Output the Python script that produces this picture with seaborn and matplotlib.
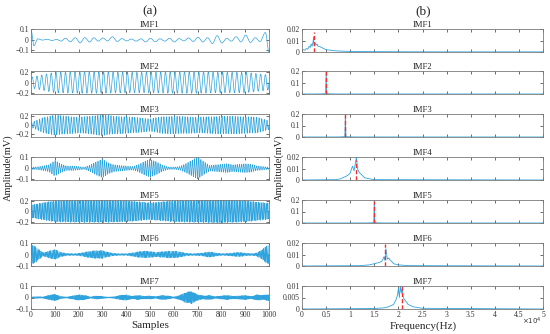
import numpy as np
import matplotlib
matplotlib.use("Agg")
import matplotlib.pyplot as plt
import seaborn as sns

sns.set_style("ticks")
plt.rcParams["font.family"] = ["Liberation Serif", "DejaVu Serif"]

BLUE = "#2ea3dd"
RED = "#f03030"
FRAME = "#7a7a7a"

FS = 100000          # sampling rate (Hz), 1000 samples -> 10 ms
N = 1000
names = ["IMF1", "IMF2", "IMF3", "IMF4", "IMF5", "IMF6", "IMF7"]

# ---- (a) time signals ----
# IMF1: extrema positions (samples) and values
imf1_pos = [0, 12, 28, 48, 68, 88, 108, 126, 145, 165, 186, 206, 226, 246, 264, 283,
            302, 322, 342, 362, 382, 402, 422, 442, 462, 482, 502, 522, 542, 562, 582,
            602, 622, 642, 662, 682, 702, 722, 742, 762, 782, 802, 822, 842, 862, 882,
            902, 922, 942, 962, 985, 1000]
imf1_val = [0.10, -0.055, 0.01, -0.002, 0.006, -0.006, 0.004, -0.012, 0.015, -0.018,
            0.02, -0.028, 0.022, -0.02, 0.02, -0.012, 0.018, -0.01, 0.03, -0.015, 0.012,
            -0.01, 0.008, -0.012, 0.01, -0.02, 0.015, -0.018, 0.01, -0.012, 0.015, -0.02,
            0.012, -0.01, 0.018, -0.015, 0.025, -0.02, 0.02, -0.035, 0.04, -0.03, 0.015,
            -0.012, 0.03, -0.02, 0.045, -0.025, 0.02, -0.015, 0.07, -0.12]

# IMF2..IMF7: carrier frequency (Hz) and amplitude envelope
carrier = [5000, 9000, 11100, 15000, 17200, 20700]
env_100 = [0, 100, 200, 300, 400, 500, 600, 700, 800, 900, 1000]
env_50 = list(range(0, 1001, 50))
env_25 = list(range(0, 1001, 25))
imf2_env = [0.10, 0.19, 0.20, 0.20, 0.19, 0.19, 0.20, 0.20, 0.19, 0.19, 0.14]
imf3_env = [0.05, 0.17, 0.23, 0.20, 0.18, 0.20, 0.24, 0.20, 0.19, 0.17, 0.14, 0.19, 0.20,
            0.19, 0.18, 0.19, 0.20, 0.20, 0.19, 0.18, 0.10]
imf4_env = [0.01, 0.012, 0.02, 0.03, 0.07, 0.04, 0.02, 0.02, 0.015, 0.01, 0.03, 0.06, 0.085,
            0.05, 0.03, 0.025, 0.02, 0.015, 0.03, 0.06, 0.08, 0.06, 0.03, 0.012, 0.01, 0.015,
            0.04, 0.07, 0.10, 0.06, 0.025, 0.03, 0.035, 0.04, 0.03, 0.035, 0.04, 0.035, 0.02,
            0.015, 0.008]
imf5_env = [0.12, 0.20, 0.21, 0.21, 0.20, 0.16, 0.20, 0.21, 0.22, 0.20, 0.15]
imf6_env = [0.09, 0.06, 0.015, 0.03, 0.045, 0.02, 0.01, 0.008, 0.01, 0.02, 0.03, 0.035,
            0.035, 0.02, 0.01, 0.008, 0.008, 0.015, 0.025, 0.03, 0.028, 0.02, 0.025, 0.03,
            0.03, 0.025, 0.012, 0.008, 0.01, 0.015, 0.025, 0.015, 0.008, 0.01, 0.015, 0.02,
            0.012, 0.008, 0.015, 0.05, 0.09]
imf7_env = [0.005, 0.008, 0.006, 0.02, 0.03, 0.01, 0.005, 0.015, 0.025, 0.02, 0.006, 0.015,
            0.01, 0.004, 0.008, 0.02, 0.025, 0.012, 0.02, 0.012, 0.015, 0.008, 0.02, 0.015,
            0.006, 0.02, 0.045, 0.055, 0.025, 0.015, 0.02, 0.008, 0.015, 0.02, 0.012, 0.015,
            0.02, 0.01, 0.025, 0.02, 0.03]
envelopes = [(env_100, imf2_env), (env_50, imf3_env), (env_25, imf4_env),
             (env_100, imf5_env), (env_25, imf6_env), (env_25, imf7_env)]

left_ylim = [(-0.115, 0.103), (-0.215, 0.215), (-0.27, 0.25), (-0.105, 0.1),
             (-0.22, 0.21), (-0.1, 0.1), (-0.1, 0.1)]
left_yticks = [[-0.1, 0, 0.1], [-0.2, 0, 0.2], [-0.2, 0, 0.2], [-0.1, 0, 0.1],
               [-0.2, 0, 0.2], [-0.1, 0, 0.1], [-0.1, 0, 0.1]]

# ---- (b) amplitude spectra ----
spec_f = [
    [0, 300, 600, 900, 1200, 1500, 1700, 1900, 2100, 2300, 2400, 2500, 2700, 2900, 3100,
     3300, 3600, 4000, 4500, 5000, 6000, 7000, 8000, 10000, 15000, 20000, 30000, 50000],
    [0, 3000, 4000, 4500, 4800, 4900, 5000, 5100, 5200, 5500, 6000, 7000, 50000],
    [0, 7000, 8000, 8500, 8800, 8900, 9000, 9100, 9200, 9500, 10000, 11000, 50000],
    [0, 7000, 8000, 9000, 9500, 10000, 10300, 10500, 10800, 11000, 11300, 11500, 11800,
     12000, 12300, 12500, 13000, 14000, 15000, 50000],
    [0, 13000, 14000, 14500, 14800, 14900, 15000, 15100, 15200, 15500, 16000, 17000, 50000],
    [0, 12000, 14000, 15000, 16000, 16500, 16800, 17000, 17200, 17400, 17700, 18000, 18300,
     18600, 19000, 19500, 20000, 22000, 50000],
    [0, 15000, 17000, 18000, 19000, 19500, 19800, 20000, 20200, 20400, 20600, 20800, 21000,
     21300, 21700, 22000, 23000, 25000, 50000],
]
spec_a = [
    [0.001, 0.002, 0.0015, 0.003, 0.0025, 0.005, 0.004, 0.007, 0.005, 0.009, 0.013, 0.006,
     0.008, 0.006, 0.007, 0.005, 0.005, 0.004, 0.003, 0.002, 0.0015, 0.001, 0.0008, 0.0005,
     0.0003, 0.0002, 0.0001, 0.0001],
    [0, 0.0002, 0.001, 0.002, 0.004, 0.01, 0.19, 0.01, 0.004, 0.002, 0.001, 0.0002, 0],
    [0, 0.0002, 0.001, 0.002, 0.004, 0.01, 0.19, 0.01, 0.004, 0.002, 0.001, 0.0002, 0],
    [0, 0.0003, 0.001, 0.003, 0.004, 0.006, 0.01, 0.012, 0.008, 0.013, 0.02, 0.01, 0.007,
     0.006, 0.005, 0.004, 0.002, 0.001, 0.0003, 0],
    [0, 0.0002, 0.001, 0.002, 0.004, 0.01, 0.19, 0.01, 0.004, 0.002, 0.001, 0.0002, 0],
    [0, 0.0003, 0.001, 0.002, 0.003, 0.004, 0.006, 0.008, 0.005, 0.015, 0.006, 0.007, 0.005,
     0.004, 0.002, 0.0015, 0.001, 0.0003, 0],
    [0, 0.0002, 0.0005, 0.001, 0.002, 0.004, 0.006, 0.009, 0.005, 0.01, 0.007, 0.009, 0.005,
     0.004, 0.003, 0.002, 0.001, 0.0003, 0],
]
centre_f = [2400, 5000, 9000, 11100, 15000, 17200, 20700]
centre_h = [0.017, 0.2, 0.2, 0.017, 0.19, 0.019, 0.01]
right_ymax = [0.02, 0.2, 0.2, 0.02, 0.2, 0.02, 0.01]
right_yticks = [[0, 0.01, 0.02], [0, 0.1, 0.2], [0, 0.1, 0.2], [0, 0.01, 0.02],
                [0, 0.1, 0.2], [0, 0.01, 0.02], [0, 0.005, 0.01]]
freq_ticks = [0, 5000, 10000, 15000, 20000, 25000, 30000, 35000, 40000, 45000, 50000]
freq_labels = ["0", "0.5", "1", "1.5", "2", "2.5", "3", "3.5", "4", "4.5", "5"]
sample_ticks = list(range(0, 1001, 100))

# build time signals
n = np.arange(N + 1)
signals = []
sig1 = np.zeros(len(n))
for k in range(len(imf1_pos) - 1):
    a, b = imf1_pos[k], imf1_pos[k + 1]
    seg = (n >= a) & (n <= b)
    s = (n[seg] - a) / (b - a)
    sig1[seg] = imf1_val[k] + (imf1_val[k + 1] - imf1_val[k]) * (1 - np.cos(np.pi * s)) / 2
signals.append(sig1)
for f, (ep, ev) in zip(carrier, envelopes):
    signals.append(np.interp(n, ep, ev) * np.sin(2 * np.pi * f * n / FS))

fig = plt.figure(figsize=(5.5, 3.34), dpi=100)
W, H = 550, 334
row_tops = [29, 71, 114, 157, 200, 243, 286]
ax_h = 23


def style(ax, title, last):
    ax.set_title(title, fontsize=6.2, pad=1.5)
    ax.set(xlabel="", ylabel="")
    ax.tick_params(direction="in", length=2, width=0.5, top=True, right=True,
                   labelsize=5.5, pad=1.5, colors="#333333")
    for sp in ax.spines.values():
        sp.set_visible(True)
        sp.set_color(FRAME)
        sp.set_linewidth(0.6)
    if not last:
        ax.tick_params(labelbottom=False)


for i in range(7):
    bottom = 1 - (row_tops[i] + ax_h) / H
    last = i == 6

    axl = fig.add_axes([31 / W, bottom, 238 / W, ax_h / H])
    sns.lineplot(x=n, y=signals[i], ax=axl, color=BLUE, linewidth=0.5,
                 estimator=None, errorbar=None)
    axl.set_xlim(0, N)
    axl.set_ylim(*left_ylim[i])
    axl.set_xticks(sample_ticks)
    axl.set_yticks(left_yticks[i])
    axl.set_yticklabels([f"{v:g}".replace("-", "\u2212") for v in left_yticks[i]])
    style(axl, names[i], last)

    axr = fig.add_axes([302 / W, bottom, 241 / W, ax_h / H])
    sns.lineplot(x=spec_f[i], y=spec_a[i], ax=axr, color=BLUE, linewidth=0.6,
                 estimator=None, errorbar=None)
    axr.plot([centre_f[i], centre_f[i]], [0, centre_h[i]], color=RED, lw=1.0,
             ls=(0, (3, 1.5)))
    axr.set_xlim(0, 50000)
    axr.set_ylim(0, right_ymax[i])
    axr.set_xticks(freq_ticks)
    axr.set_xticklabels(freq_labels)
    axr.set_yticks(right_yticks[i])
    axr.set_yticklabels([f"{v:g}" for v in right_yticks[i]])
    style(axr, names[i], last)

fig.text(150 / W, 1 - 11 / H, "(a)", ha="center", va="center", fontsize=9.5)
fig.text(423 / W, 1 - 11 / H, "(b)", ha="center", va="center", fontsize=9.5)
fig.text(8 / W, 1 - 168 / H, "Amplitude(mV)", rotation=90, ha="center", va="center",
         fontsize=7.5)
fig.text(279 / W, 1 - 168 / H, "Amplitude(mV)", rotation=90, ha="center", va="center",
         fontsize=7.5)
fig.text(150 / W, 1 - 326 / H, "Samples", ha="center", va="center", fontsize=8)
fig.text(423 / W, 1 - 326 / H, "Frequency(Hz)", ha="center", va="center", fontsize=8)
fig.text(542 / W, 1 - 321 / H, r"$\times10^4$", ha="right", va="center", fontsize=5,
         color="#333333")

fig.savefig("out.png", dpi=100)
